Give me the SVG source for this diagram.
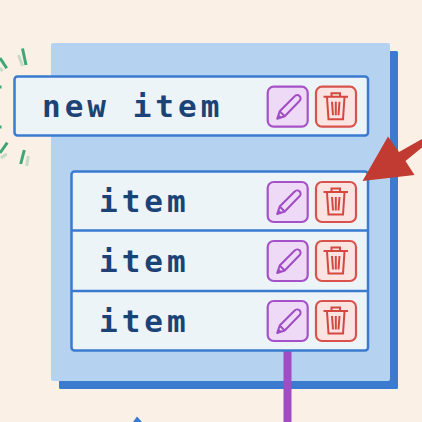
<svg xmlns="http://www.w3.org/2000/svg" width="422" height="422" viewBox="0 0 422 422">
<style>
.row{fill:#edf4f8;stroke:#3a7bd0;stroke-width:2.5}
.t{font-family:"DejaVu Sans Mono",monospace;font-weight:700;font-size:31px;letter-spacing:4px;fill:#1c4375}
.pb{fill:#eedaf7;stroke:#a552c8;stroke-width:2.200}
.rb{fill:#fbe3e2;stroke:#d9534c;stroke-width:2.200}
.pi{fill:none;stroke:#a04cc4;stroke-width:2;stroke-linejoin:round}
.ri{fill:none;stroke:#d4483f;stroke-width:2}
.g{stroke:#3fa677;stroke-width:3}
.gf{stroke:#3fa677;stroke-width:3;opacity:.28}
</style>
<defs>
<g id="edit">
<rect class="pb" x="0" y="0" width="40" height="40" rx="6"/>
<path class="pi" d="M9.500 32 L12 24.500 L27 9.500 A3 3 0 0 1 32 14 L17 29.500 Z M12 24.500 L17 29.500"/>
<path d="M9.500 32 L10.800 27.500 L14 30.500 Z" fill="#a04cc4"/>
</g>
<g id="del">
<rect class="rb" x="0" y="0" width="40" height="40" rx="6"/>
<path class="ri" d="M7.500 10H32M15.500 10V6.500H24V10M11 10.500L12.500 32.500H27L28.500 10.500M16 15L17 28.500M19.800 15V28.500M23.500 15L22.500 28.500"/>
</g>
</defs>
<rect width="422" height="422" fill="#fbf0e6"/>
<g id="panel">
<rect x="59" y="51" width="339" height="338" rx="1.500" fill="#3a7bd0"/>
<rect x="51" y="43" width="339" height="338" rx="2" fill="#b5d2f0"/>
</g>
<g id="connectors">
<rect x="283.500" y="351" width="8" height="71" fill="#a14bc4"/>
<path d="M137 416.500L133 422H142Z" fill="#3a7bd0"/>
</g>
<g id="sparks">
<path class="g" d="M22.500 48.500L26 65M0 58L6.700 68.300M0 87H1.500M0 127H1.500M7.300 142.700L0 153M24.300 150L20.700 164"/>
<path class="gf" d="M18.500 55L22.500 66M0 68L2.500 71M6.700 154L1 158M28.300 156L26.700 166"/>
</g>
<g id="new-item">
<rect class="row" x="14.500" y="76.500" width="353.500" height="59" rx="3"/>
<text class="t" x="42" y="117">new item</text>
<use href="#edit" x="267.700" y="86.700"/>
<use href="#del" x="316" y="86.700"/>
</g>
<g id="items">
<rect class="row" x="71.500" y="171.500" width="296.500" height="179" rx="3"/>
<path d="M71.500 230.500H368M71.500 291H368" fill="none" stroke="#3a7bd0" stroke-width="2.500"/>
</g>
<g id="item-1">
<text class="t" x="99" y="212">item</text>
<use href="#edit" x="267.700" y="182"/>
<use href="#del" x="316" y="182"/>
</g>
<g id="item-2">
<text class="t" x="99" y="272">item</text>
<use href="#edit" x="267.700" y="241"/>
<use href="#del" x="316" y="241"/>
</g>
<g id="item-3">
<text class="t" x="99" y="332">item</text>
<use href="#edit" x="267.700" y="301"/>
<use href="#del" x="316" y="301"/>
</g>
<path id="arrow" d="M362.500 181L388 136.500L399 152L422 139V147.500L405.500 161L414.500 175Z" fill="#c23b32"/>
</svg>
